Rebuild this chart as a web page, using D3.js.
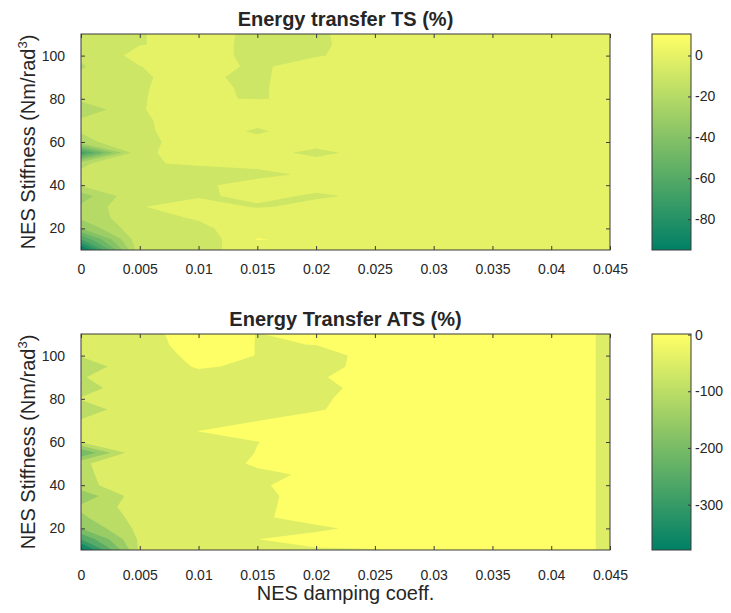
<!DOCTYPE html>
<html>
<head>
<meta charset="utf-8">
<script src="https://cdn.jsdelivr.net/npm/d3@7"></script>
<style>
  body { margin: 0; background: #fff; }
  text { font-family: "Liberation Sans", Arial, sans-serif; fill: #262626; }
</style>
</head>
<body>
<svg id="chart" width="731" height="613"></svg>
<script>
// Sampling grid: NES damping coefficient (columns) and NES stiffness (rows)
const damping = [0, 0.005, 0.01, 0.015, 0.02, 0.025, 0.03, 0.035, 0.04, 0.045];
const stiffness = [10, 15, 20, 25, 30, 35, 40, 45, 50, 55, 60, 65, 70, 75, 80, 85, 90, 95, 100, 105, 110];

// Energy transfer TS (%), one row per stiffness value (10 -> 110)
const tsEnergy = [
  [-95,   -3,   -2,    3,    5,    5,    5, 5, 5, 5],
  [-60,   -2,   -7,   10.5,  8,    5,    5, 5, 5, 5],
  [-30,   -1,   -1.5,  4,    5,    5,    5, 5, 5, 5],
  [-18,   -2,    0.63, 5,    5,    5,    5, 5, 5, 5],
  [-18,   -0.3,  2.5, -0.5,  1.2,  5,    5, 5, 5, 5],
  [-25,   -0.5, -0.6,  1.0, -0.5,  0.75, 5, 5, 5, 5],
  [-9,    -0.5, -0.5,  1.05, 1.2,  5,    5, 5, 5, 5],
  [-8,    -0.5, -1.5, -0.7,  0.5,  5,    5, 5, 5, 5],
  [-12,   -0.3,  0.38, 0.7,  0.75, 5,    5, 5, 5, 5],
  [-65,   -0.3,  0.7,  0.75,-0.5,  0.75, 5, 5, 5, 5],
  [-14,   -0.3,  0.5,  0.5,  0.75, 5,    5, 5, 5, 5],
  [-9,    -0.3,  0.8, -0.2,  0.8,  5,    5, 5, 5, 5],
  [-8,    -0.6,  2,    0.5,  5,    5,    5, 5, 5, 5],
  [-17.6, -0.3,  2.5,  3,    5,    5,    5, 5, 5, 5],
  [-7,    -0.03, 0.2, -0.1,  0.4,  5,    5, 5, 5, 5],
  [-7,    -0.3,  1.5, -1,    4,    5,    5, 5, 5, 5],
  [-8,    -0.3,  1,   -1.2,  4,    5,    5, 5, 5, 5],
  [-11,   -0.1,  2.4, -1,    2.8,  5,    5, 5, 5, 5],
  [-8,     3,    1.5, -1,   -0.4,  2,    5, 5, 5, 5],
  [-7,    -0.2,  1.5, -1,   -0.6,  1.6,  5, 5, 5, 5],
  [-6,    -0.2,  1.5, -0.9, -0.5,  1.6,  5, 5, 5, 5]
];

// Energy Transfer ATS (%), one row per stiffness value (10 -> 110)
const atsEnergy = [
  [-380, -40,   -2,   -1,    -0.3, -0.1,  1, 1, 1, -0.32],
  [-250, -40,   -2,   -0.02,  1,    1,    1, 1, 1, -0.32],
  [-150, -35,   -2,   -1,    -0.5,  0.8,  1, 1, 1, -0.32],
  [-110, -30,   -2,   -0.4,   1,    1,    1, 1, 1, -0.32],
  [-90,  -25,   -2,   -0.5,   1,    1,    1, 1, 1, -0.32],
  [-135, -20,   -2,   -0.6,   1,    1,    1, 1, 1, -0.32],
  [-70,  -5,    -2,   -0.3,   1,    1,    1, 1, 1, -0.32],
  [-65,  -1,    -2,   -0.7,   0.5,  1,    1, 1, 1, -0.32],
  [-60,  -1,    -2,    0.5,   1,    1,    1, 1, 1, -0.32],
  [-200, -1,    -2,    0.1,   1,    1,    1, 1, 1, -0.32],
  [-45,  -1,    -1,   -0.05,  1,    1,    1, 1, 1, -0.32],
  [-48,  -1,     0.02, 1,     1,    1,    1, 1, 1, -0.32],
  [-45,  -1,    -1,   -0.05,  1,    1,    1, 1, 1, -0.32],
  [-90,  -1,    -1,   -0.05, -0.2,  1,    1, 1, 1, -0.32],
  [-45,  -1,    -1,   -1,    -0.4,  1,    1, 1, 1, -0.32],
  [-80,  -1,    -1,   -1,    -0.5,  0.6,  1, 1, 1, -0.32],
  [-55,  -1,    -1,   -1,    -0.25, 1,    1, 1, 1, -0.32],
  [-90,  -2,     0.3, -0.5,  -0.5,  0.5,  1, 1, 1, -0.32],
  [-45,  -2,     1,   -0.05, -0.5,  0.43, 1, 1, 1, -0.32],
  [-40,  -1,     1,   -0.05,  0.01, 1,    1, 1, 1, -0.32],
  [-52,  -0.75,  1,   -0.04,  0.36, 1,    1, 1, 1, -0.32]
];

// Contour levels
const tsLevels = [-90, -80, -70, -60, -50, -40, -30, -20, -10, 0, 10];
const atsLevels = [-350, -300, -250, -200, -150, -100, -50, 0];

// Tick values
const xTicks = [0, 0.005, 0.01, 0.015, 0.02, 0.025, 0.03, 0.035, 0.04, 0.045];
const yTicks = [20, 40, 60, 80, 100];
const tsBarTicks = [0, -20, -40, -60, -80];
const atsBarTicks = [0, -100, -200, -300];

const svg = d3.select("#chart");
const axisColor = "#3a3a3a";
const plain = d => String(d);   // hyphen-minus, as printed on the axes

// MATLAB "summer" colormap
function summer(t) {
  t = Math.max(0, Math.min(1, t));
  return d3.rgb(255 * t, 255 * (0.5 + 0.5 * t), 0.4 * 255).formatHex();
}

const plotLeft = 81, plotRight = 610;
const barLeft = 652, barRight = 691;

function panel(cfg) {
  const { top, bottom, values, levels, barTicks, title, id, xPad } = cfg;
  const flat = values.flat();
  const vMin = d3.min(flat), vMax = d3.max(flat);

  const x = d3.scaleLinear().domain([0, 0.045]).range([plotLeft, plotRight]);
  const y = d3.scaleLinear().domain([10, 110]).range([bottom, top]);

  // grid index space -> data space (sample i sits at i + 0.5)
  const gx = d3.scaleLinear().domain([0.5, damping.length - 0.5]).range([damping[0], damping[damping.length - 1]]);
  const gy = d3.scaleLinear().domain([0.5, stiffness.length - 0.5]).range([stiffness[0], stiffness[stiffness.length - 1]]);
  const proj = d3.geoTransform({
    point: function (px, py) { this.stream.point(x(gx(px)), y(gy(py))); }
  });
  const path = d3.geoPath(proj);

  const color = v => summer((v - vMin) / (vMax - vMin));

  svg.append("clipPath").attr("id", "clip-" + id)
    .append("rect")
    .attr("x", plotLeft).attr("y", top)
    .attr("width", plotRight - plotLeft).attr("height", bottom - top);

  const contours = d3.contours()
    .size([damping.length, stiffness.length])
    .thresholds([vMin, ...levels])(flat);

  svg.append("g").attr("clip-path", `url(#clip-${id})`)
    .selectAll("path")
    .data(contours)
    .join("path")
    .attr("d", path)
    .attr("fill", d => color(d.value));

  // axes with inward ticks on all four sides
  const gBottom = svg.append("g").attr("transform", `translate(0,${bottom})`)
    .call(d3.axisBottom(x).tickValues(xTicks).tickFormat(plain).tickSizeInner(-4).tickSizeOuter(0).tickPadding(xPad));
  const gTop = svg.append("g").attr("transform", `translate(0,${top})`)
    .call(d3.axisTop(x).tickValues(xTicks).tickFormat("").tickSizeInner(-4).tickSizeOuter(0));
  const gLeft = svg.append("g").attr("transform", `translate(${plotLeft},0)`)
    .call(d3.axisLeft(y).tickValues(yTicks).tickFormat(plain).tickSizeInner(-4).tickSizeOuter(0).tickPadding(16));
  const gRight = svg.append("g").attr("transform", `translate(${plotRight},0)`)
    .call(d3.axisRight(y).tickValues(yTicks).tickFormat("").tickSizeInner(-4).tickSizeOuter(0));

  [gBottom, gTop, gLeft, gRight].forEach(g => {
    g.select(".domain").remove();
    g.selectAll(".tick line").attr("stroke", axisColor);
    g.selectAll(".tick text").attr("font-size", 14).attr("fill", "#262626")
      .style("font-family", '"Liberation Sans", Arial, sans-serif');
  });

  svg.append("rect")
    .attr("x", plotLeft).attr("y", top)
    .attr("width", plotRight - plotLeft).attr("height", bottom - top)
    .attr("fill", "none").attr("stroke", axisColor).attr("stroke-width", 1);

  // title
  svg.append("text")
    .attr("x", (plotLeft + plotRight) / 2).attr("y", top - 8)
    .attr("text-anchor", "middle")
    .attr("font-size", 20).attr("font-weight", "bold")
    .attr("fill", "#000")
    .text(title);

  // y label
  const yl = svg.append("text")
    .attr("transform", `translate(35,${(top + bottom) / 2}) rotate(-90)`)
    .attr("text-anchor", "middle")
    .attr("font-size", 20);
  yl.append("tspan").text("NES Stiffness (Nm/rad");
  yl.append("tspan").attr("font-size", 13).attr("dy", -8).text("3");
  yl.append("tspan").attr("dy", 8).text(")");

  // colorbar
  const cb = d3.scaleLinear().domain([vMin, vMax]).range([bottom, top]);
  const grad = svg.append("defs").append("linearGradient")
    .attr("id", "grad-" + id)
    .attr("x1", 0).attr("y1", 1).attr("x2", 0).attr("y2", 0);
  d3.range(0, 1.0001, 0.1).forEach(t => {
    grad.append("stop").attr("offset", t).attr("stop-color", summer(t));
  });
  svg.append("rect")
    .attr("x", barLeft).attr("y", top)
    .attr("width", barRight - barLeft).attr("height", bottom - top)
    .attr("fill", `url(#grad-${id})`)
    .attr("stroke", axisColor).attr("stroke-width", 1);
  const gBar = svg.append("g").attr("transform", `translate(${barRight},0)`)
    .call(d3.axisRight(cb).tickValues(barTicks).tickFormat(plain).tickSizeInner(-3).tickSizeOuter(0).tickPadding(4));
  gBar.select(".domain").remove();
  gBar.selectAll(".tick line").attr("stroke", axisColor);
  gBar.selectAll(".tick text").attr("font-size", 14).attr("fill", "#262626")
    .style("font-family", '"Liberation Sans", Arial, sans-serif');
}

panel({ id: "ts", top: 34, bottom: 250, values: tsEnergy, levels: tsLevels, xPad: 14,
        barTicks: tsBarTicks, title: "Energy transfer TS (%)" });
panel({ id: "ats", top: 334, bottom: 550, values: atsEnergy, levels: atsLevels, xPad: 20,
        barTicks: atsBarTicks, title: "Energy Transfer ATS (%)" });

// x label
svg.append("text")
  .attr("x", (plotLeft + plotRight) / 2).attr("y", 600)
  .attr("text-anchor", "middle")
  .attr("font-size", 20)
  .text("NES damping coeff.");
</script>
</body>
</html>
